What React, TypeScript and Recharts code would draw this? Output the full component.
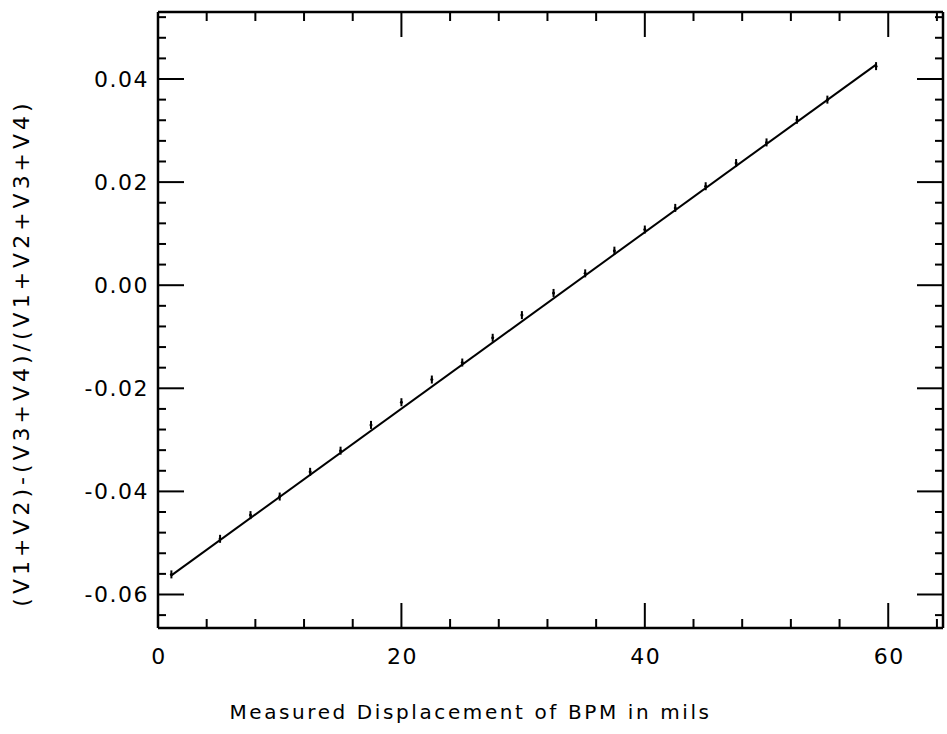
import React from "react";
import { ComposedChart, XAxis, YAxis, Line, Scatter, Label } from "recharts";

const xTicks = [0, 4, 8, 12, 16, 20, 24, 28, 32, 36, 40, 44, 48, 52, 56, 60, 64];
const xMajor = [0, 20, 40, 60];
const xLabels = ["0", "20", "40", "60"];

const yTicks = [
  -0.064, -0.06, -0.056, -0.052, -0.048, -0.044, -0.04, -0.036, -0.032, -0.028,
  -0.024, -0.02, -0.016, -0.012, -0.008, -0.004, 0, 0.004, 0.008, 0.012, 0.016,
  0.02, 0.024, 0.028, 0.032, 0.036, 0.04, 0.044, 0.048, 0.052,
];
const yMajor = [-0.06, -0.04, -0.02, 0, 0.02, 0.04];
const yLabels = ["-0.06", "-0.04", "-0.02", "0.00", "0.02", "0.04"];

const displacement = [
  1.1, 5.1, 7.6, 10.0, 12.5, 15.0, 17.5, 20.0, 22.5, 25.0, 27.5, 29.9, 32.5,
  35.1, 37.5, 40.0, 42.5, 45.0, 47.5, 50.0, 52.5, 55.0, 59.0,
];
const ratio = [
  -0.0561, -0.0492, -0.0446, -0.041, -0.0362, -0.0321, -0.0271, -0.0227,
  -0.0183, -0.015, -0.0102, -0.0058, -0.0015, 0.0023, 0.0067, 0.0108, 0.015,
  0.0192, 0.0237, 0.0277, 0.0321, 0.036, 0.0425,
];
const fitX = [1.1, 59.0];
const fitY = [-0.0563, 0.0428];

const points = displacement.map((x, i) => ({ x, y: ratio[i] }));
const fitLine = fitX.map((x, i) => ({ x, y: fitY[i] }));

const FONT = "DejaVu Sans";
const isMajor = (v: number, list: number[]) => list.findIndex((m) => Math.abs(m - v) < 1e-7);

const BottomTick = (props: any) => {
  const { x, y, payload } = props;
  const idx = isMajor(payload.value, xMajor);
  const len = idx >= 0 ? 25 : 9;
  return (
    <g>
      <line x1={x} y1={y} x2={x} y2={y - len} stroke="#000" strokeWidth={2} />
      {idx >= 0 && (
        <text x={x + 1} y={y + 28} textAnchor="middle" dominantBaseline="central" fontFamily={FONT} fontSize={22} letterSpacing={1.5} fill="#000">
          {xLabels[idx]}
        </text>
      )}
    </g>
  );
};

const TopTick = (props: any) => {
  const { x, y, payload } = props;
  const idx = isMajor(payload.value, xMajor);
  const len = idx >= 0 ? 25 : 9;
  return <line x1={x} y1={y} x2={x} y2={y + len} stroke="#000" strokeWidth={2} />;
};

const LeftTick = (props: any) => {
  const { x, y, payload } = props;
  const idx = isMajor(payload.value, yMajor);
  const len = idx >= 0 ? 26 : 8;
  return (
    <g>
      <line x1={x} y1={y} x2={x + len} y2={y} stroke="#000" strokeWidth={2} />
      {idx >= 0 && (
        <text x={x - 9} y={y} textAnchor="end" dominantBaseline="central" fontFamily={FONT} fontSize={22} letterSpacing={1.5} fill="#000">
          {yLabels[idx]}
        </text>
      )}
    </g>
  );
};

const RightTick = (props: any) => {
  const { x, y, payload } = props;
  const idx = isMajor(payload.value, yMajor);
  const len = idx >= 0 ? 26 : 8;
  return <line x1={x} y1={y} x2={x - len} y2={y} stroke="#000" strokeWidth={2} />;
};

const ErrShape = (props: any) => {
  const { cx, cy } = props;
  return (
    <g>
      <line x1={cx} y1={cy - 4} x2={cx} y2={cy + 4} stroke="#000" strokeWidth={2} />
      <circle cx={cx} cy={cy} r={1.5} fill="#000" />
    </g>
  );
};

const YTitle = (props: any) => {
  const { viewBox } = props;
  const cx = viewBox.x - 136;
  const cy = viewBox.y + viewBox.height / 2 + 33;
  return (
    <text x={cx} y={cy} transform={`rotate(-90 ${cx} ${cy})`} textAnchor="middle" dominantBaseline="central" fontFamily={FONT} fontSize={22} letterSpacing={4} fill="#000">
      (V1+V2)-(V3+V4)/(V1+V2+V3+V4)
    </text>
  );
};

const XTitle = (props: any) => {
  const { viewBox } = props;
  const cx = viewBox.x + viewBox.width / 2 - 80;
  const cy = viewBox.y + 84;
  return (
    <text x={cx} y={cy} textAnchor="middle" dominantBaseline="central" fontFamily={FONT} fontSize={20} letterSpacing={2.6} fill="#000">
      Measured Displacement of BPM in mils
    </text>
  );
};

export default function App() {
  return (
    <div style={{ position: "absolute", left: 0, top: 0, background: "#fff" }}>
      <ComposedChart width={947} height={734} margin={{ top: 11, right: 3, bottom: 105, left: 157 }}>
        <XAxis
          xAxisId="bottom"
          type="number"
          dataKey="x"
          domain={[0, 64.5]}
          ticks={xTicks}
          interval={0}
          height={1}
          tickSize={0}
          tickMargin={0}
          tickLine={false}
          tick={<BottomTick />}
          axisLine={{ stroke: "#000", strokeWidth: 2.5 }}
          allowDataOverflow
        >
          <Label content={<XTitle />} />
        </XAxis>
        <XAxis
          xAxisId="top"
          orientation="top"
          type="number"
          dataKey="x"
          domain={[0, 64.5]}
          ticks={xTicks}
          interval={0}
          height={1}
          tickSize={0}
          tickMargin={0}
          tickLine={false}
          tick={<TopTick />}
          axisLine={{ stroke: "#000", strokeWidth: 2.5 }}
          allowDataOverflow
        />
        <YAxis
          yAxisId="left"
          type="number"
          dataKey="y"
          domain={[-0.0665, 0.053]}
          ticks={yTicks}
          interval={0}
          width={1}
          tickSize={0}
          tickMargin={0}
          tickLine={false}
          tick={<LeftTick />}
          axisLine={{ stroke: "#000", strokeWidth: 2.5 }}
          allowDataOverflow
        >
          <Label content={<YTitle />} />
        </YAxis>
        <YAxis
          yAxisId="right"
          orientation="right"
          type="number"
          dataKey="y"
          domain={[-0.0665, 0.053]}
          ticks={yTicks}
          interval={0}
          width={1}
          tickSize={0}
          tickMargin={0}
          tickLine={false}
          tick={<RightTick />}
          axisLine={{ stroke: "#000", strokeWidth: 2.5 }}
          allowDataOverflow
        />
        <Line
          xAxisId="bottom"
          yAxisId="left"
          data={fitLine}
          dataKey="y"
          type="linear"
          stroke="#000"
          strokeWidth={2}
          dot={false}
          activeDot={false}
          isAnimationActive={false}
        />
        <Scatter
          xAxisId="bottom"
          yAxisId="left"
          data={points}
          dataKey="y"
          shape={<ErrShape />}
          isAnimationActive={false}
        />
      </ComposedChart>
    </div>
  );
}
